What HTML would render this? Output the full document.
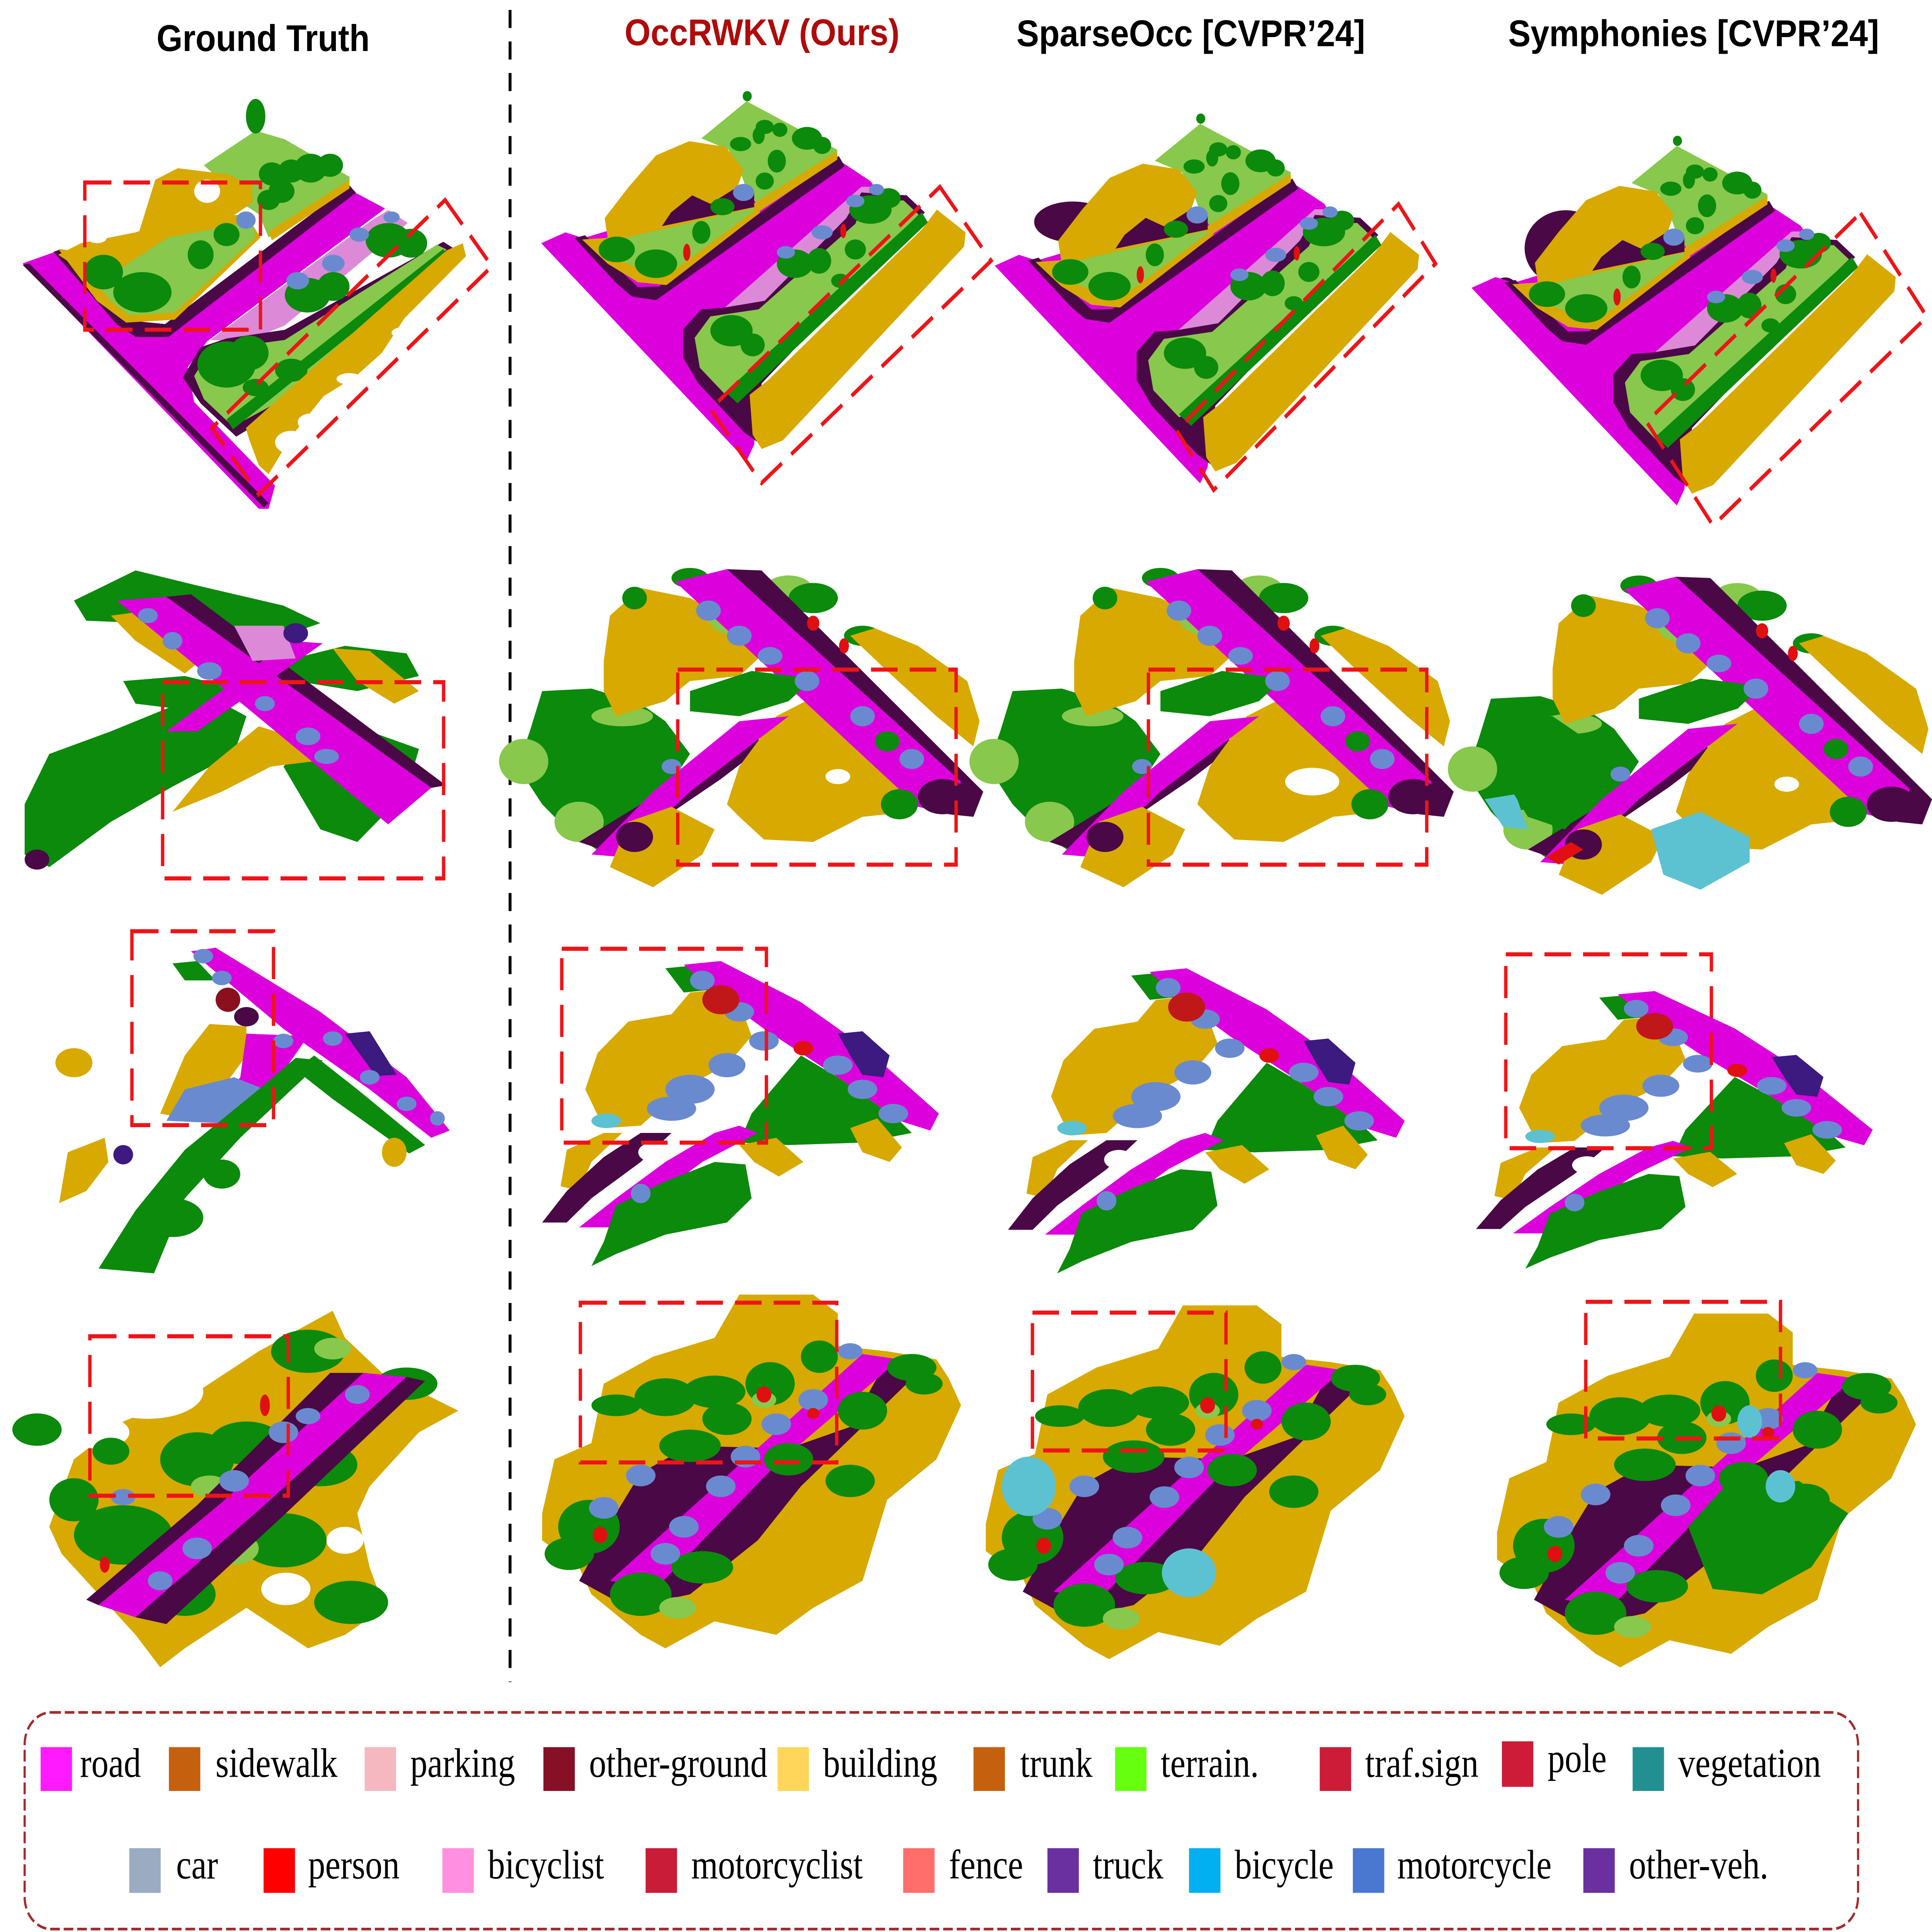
<!DOCTYPE html>
<html><head><meta charset="utf-8"><style>
html,body{margin:0;padding:0;width:100%;height:100%;overflow:hidden;background:#fff;}
svg{display:block;width:100vw;height:100vh;}
</style></head><body>
<svg xmlns="http://www.w3.org/2000/svg" xmlns:xlink="http://www.w3.org/1999/xlink" viewBox="0 0 7996 6616" preserveAspectRatio="none">
<style>
.m{fill:#dc00dc}.p{fill:#4a0846}.g{fill:#d8a900}.v{fill:#0b8a0b}.t{fill:#88c84c}.k{fill:#dc8ad8}.b{fill:#6a8ad0}.r{fill:#e01010}.u{fill:#3c1a80}.c{fill:#5cc2d2}.w{fill:#fff}
.tt{font-family:"Liberation Sans",Arial,sans-serif;font-weight:bold;font-size:128px;}
.lg{font-family:"Liberation Serif","Times New Roman",serif;font-size:142px;fill:#000;}
.bx{fill:none;stroke:#ee1418;stroke-width:14;stroke-dasharray:110 50;}
</style>
<rect x="0" y="0" width="7996" height="6616" fill="#fff"/>

<!-- Titles -->
<text class="tt" x="648" y="175" textLength="882" lengthAdjust="spacingAndGlyphs" fill="#000">Ground Truth</text>
<text class="tt" x="2585" y="155" textLength="1138" lengthAdjust="spacingAndGlyphs" fill="#b00a0a">OccRWKV (Ours)</text>
<text class="tt" x="4207" y="158" textLength="1443" lengthAdjust="spacingAndGlyphs" fill="#000">SparseOcc [CVPR’24]</text>
<text class="tt" x="6242" y="158" textLength="1535" lengthAdjust="spacingAndGlyphs" fill="#000">Symphonies [CVPR’24]</text>

<!-- vertical dashed divider -->
<line x1="2111" y1="34" x2="2111" y2="5760" stroke="#000" stroke-width="12" stroke-dasharray="62 46"/>

<!-- ===== ROW 1 ===== -->
<g transform="translate(0,220) scale(1.3393,0.9885)">
<polygon class="m" points="70,690 170,650 380,900 500,930 1090,440 1190,500 640,960 580,1050 600,1170 850,1460 830,1540 800,1540"/>
<polygon class="p" points="165,650 360,900 420,945 520,945 1100,445 1080,420 510,900 420,890 385,860 190,640"/>
<polygon class="p" points="70,695 90,690 830,1520 815,1535"/>
<polygon class="k" points="650,955 1150,540 1200,505 1260,550 880,905 760,960"/>
<polygon class="p" points="565,1085 620,980 700,950 880,920 1370,615 1405,640 870,1195 730,1290 620,1175"/>
<polygon class="t" points="600,1080 650,990 880,955 1350,625 1380,642 860,1170 720,1255 630,1160"/>
<ellipse class="v" cx="700" cy="1040" rx="90" ry="80"/><ellipse class="v" cx="770" cy="1000" rx="60" ry="60"/>
<ellipse class="v" cx="950" cy="800" rx="70" ry="60"/><ellipse class="v" cx="1030" cy="770" rx="50" ry="50"/>
<ellipse class="v" cx="1200" cy="610" rx="70" ry="60"/><ellipse class="v" cx="1270" cy="620" rx="50" ry="50"/>
<ellipse class="v" cx="900" cy="1060" rx="50" ry="40"/><ellipse class="v" cx="790" cy="1120" rx="40" ry="30"/>
<polygon class="v" points="700,1230 1370,640 1385,665 720,1265"/>
<ellipse class="b" cx="920" cy="750" rx="35" ry="30"/><ellipse class="b" cx="1030" cy="690" rx="35" ry="30"/>
<ellipse class="b" cx="1110" cy="590" rx="30" ry="25"/><ellipse class="b" cx="1210" cy="530" rx="25" ry="20"/>
<polygon class="g" points="760,1260 1000,1020 1380,645 1430,620 1440,665 1250,880 1180,1000 1100,1080 1000,1150 900,1290 830,1420 800,1390 770,1300"/>
<ellipse class="w" cx="1080" cy="1090" rx="40" ry="20"/><ellipse class="w" cx="900" cy="1310" rx="50" ry="40"/>
<ellipse class="w" cx="960" cy="1240" rx="40" ry="30"/><ellipse class="w" cx="1250" cy="930" rx="40" ry="20"/>
<polygon class="t" points="630,350 790,230 880,260 1080,390 1080,420 830,600 800,520 760,490 700,420"/>
<polygon class="g" points="830,580 1080,400 1080,430 840,610"/>
<ellipse class="v" cx="840" cy="380" rx="40" ry="40"/><ellipse class="v" cx="900" cy="370" rx="40" ry="40"/>
<ellipse class="v" cx="960" cy="360" rx="50" ry="50"/><ellipse class="v" cx="1020" cy="350" rx="40" ry="40"/>
<ellipse class="v" cx="830" cy="470" rx="35" ry="35"/><ellipse class="v" cx="870" cy="440" rx="40" ry="40"/>
<ellipse class="v" cx="790" cy="180" rx="30" ry="60"/>
<polygon class="g" points="180,660 250,620 430,580 480,400 550,360 620,370 700,380 780,420 780,480 700,540 580,560 500,600 430,700 370,700 330,690 260,720"/>
<ellipse class="w" cx="640" cy="440" rx="40" ry="40"/><ellipse class="w" cx="420" cy="620" rx="40" ry="30"/><ellipse class="w" cx="300" cy="600" rx="30" ry="20"/>
<polygon class="g" points="180,640 260,650 520,540 760,520 805,600 540,885 390,895 300,820"/>
<polygon class="t" points="300,760 520,600 780,545 790,600 540,860 400,870 340,820"/>
<ellipse class="v" cx="440" cy="790" rx="90" ry="70"/><ellipse class="v" cx="320" cy="720" rx="60" ry="60"/>
<ellipse class="v" cx="620" cy="660" rx="40" ry="50"/><ellipse class="v" cx="700" cy="590" rx="40" ry="40"/>
<ellipse class="b" cx="760" cy="540" rx="30" ry="30"/>
</g>

<g id="a1" transform="translate(2190,220) scale(1.25,0.9758)">
<polygon class="m" points="40,628 120,590 180,610 1030,340 1130,410 1150,440 800,800 760,1130 745,1335 720,1392"/>
<polygon class="k" points="620,880 1100,430 1160,430 1190,460 800,830"/>
<polygon class="p" points="150,610 290,770 340,815 420,828 1045,358 1025,322 430,780 360,782 310,732 185,600"/>
<polygon class="p" points="510,930 570,860 640,855 780,830 1050,540 1100,450 1250,460 1310,520 770,1120 755,1325 710,1290 560,1120 510,1030"/>
<polygon class="t" points="548,960 600,885 760,860 1080,560 1110,480 1240,478 1290,528 680,1150 650,1160 565,1065"/>
<polygon class="g" points="730,1160 790,1110 1300,580 1350,510 1445,590 1440,640 840,1320 770,1350 740,1300"/>
<polygon class="v" points="650,1150 1300,520 1320,555 690,1190"/>
<ellipse class="v" cx="670" cy="935" rx="70" ry="55"/><ellipse class="v" cx="740" cy="985" rx="40" ry="40"/>
<ellipse class="v" cx="880" cy="700" rx="60" ry="50"/><ellipse class="v" cx="960" cy="690" rx="40" ry="45"/>
<ellipse class="v" cx="1130" cy="510" rx="70" ry="50"/><ellipse class="v" cx="1190" cy="470" rx="40" ry="35"/>
<ellipse class="v" cx="1080" cy="650" rx="35" ry="35"/><ellipse class="v" cx="1030" cy="760" rx="30" ry="25"/>
<ellipse class="b" cx="850" cy="660" rx="30" ry="22"/><ellipse class="b" cx="970" cy="590" rx="35" ry="25"/>
<ellipse class="b" cx="1080" cy="480" rx="30" ry="22"/><ellipse class="b" cx="1150" cy="440" rx="25" ry="20"/>
<ellipse class="r" cx="1040" cy="585" rx="10" ry="25"/>
<polygon class="t" points="570,260 720,130 1020,300 1020,320 760,500 720,440 700,380 660,300"/>
<polygon class="g" points="740,492 1020,305 1020,335 760,518"/>
<polygon class="g" points="250,540 330,430 420,320 530,270 650,290 710,370 690,430 600,490 540,460 470,520 420,600 340,630 260,610"/>
<polygon class="p" points="420,600 470,520 540,460 600,490 690,430 745,450 745,505 500,620"/>
<polygon class="g" points="175,615 250,610 750,500 765,520 455,775 360,765 260,700"/>
<polygon class="t" points="235,630 740,505 745,515 460,740 365,715 280,680"/>
<ellipse class="v" cx="780" cy="220" rx="30" ry="25"/><ellipse class="v" cx="830" cy="230" rx="25" ry="25"/>
<ellipse class="v" cx="700" cy="280" rx="35" ry="25"/><ellipse class="v" cx="760" cy="250" rx="20" ry="30"/>
<ellipse class="v" cx="820" cy="340" rx="30" ry="40"/><ellipse class="v" cx="920" cy="260" rx="50" ry="40"/>
<ellipse class="v" cx="970" cy="285" rx="30" ry="30"/><ellipse class="v" cx="780" cy="410" rx="30" ry="30"/>
<ellipse class="v" cx="640" cy="500" rx="40" ry="30"/><ellipse class="v" cx="570" cy="590" rx="30" ry="40"/>
<ellipse class="v" cx="290" cy="650" rx="60" ry="45"/><ellipse class="v" cx="420" cy="700" rx="70" ry="50"/>
<ellipse class="v" cx="722" cy="112" rx="15" ry="18"/>
<ellipse class="b" cx="710" cy="450" rx="35" ry="30"/>
<ellipse class="r" cx="522" cy="660" rx="12" ry="30"/>
</g>
<ellipse class="p" cx="4440" cy="760" rx="160" ry="70"/>
<use xlink:href="#a1" href="#a1" transform="translate(1877,77)"/>
<ellipse class="p" cx="6480" cy="850" rx="170" ry="130"/>
<ellipse class="p" cx="6230" cy="1010" rx="60" ry="60"/>
<use xlink:href="#a1" href="#a1" transform="translate(3850,153)"/>

<rect class="bx" x="351" y="625" width="727" height="504"/>
<polygon class="bx" points="1842,685 2036,912 1071,1693 877,1466"/>
<polygon class="bx" points="3890,640 4102,893 3152,1654 2940,1401"/>
<polygon class="bx" points="5788,699 5941,903 5023,1678 4870,1474"/>
<polygon class="bx" points="7700,730 7975,1085 7090,1800 6815,1445"/>

<!-- ===== ROW 2 ===== -->
<g transform="translate(0,1850) scale(5.0995,0.861)">
<polygon class="v" points="60,240 110,120 160,180 230,260 260,330 230,380 180,350 120,330 70,320"/>
<polygon class="v" points="20,1050 40,850 90,760 140,660 170,620 200,700 190,850 140,980 90,1120 40,1300 20,1250"/>
<polygon class="v" points="230,900 260,750 300,760 340,830 330,1000 290,1200 260,1150"/>
<polygon class="v" points="230,480 280,420 330,450 340,540 290,600 240,560"/>
<polygon class="v" points="100,560 150,540 200,600 160,680 110,650"/>
<polygon class="g" points="90,300 120,280 170,450 150,530 110,400"/>
<polygon class="g" points="140,1080 170,900 210,740 250,800 270,870 220,900 180,1000"/>
<polygon class="g" points="270,430 300,440 340,600 320,650 290,560"/>
<polygon class="m" points="95,240 135,225 350,985 315,1130"/>
<polygon class="p" points="135,225 155,215 362,975 350,985"/>
<polygon class="m" points="235,400 262,410 160,760 135,760"/>
<polygon class="k" points="190,340 230,340 240,470 205,480"/>
<ellipse class="b" cx="120" cy="300" rx="8" ry="30"/><ellipse class="b" cx="140" cy="400" rx="8" ry="35"/>
<ellipse class="b" cx="170" cy="520" rx="10" ry="35"/><ellipse class="b" cx="250" cy="780" rx="10" ry="35"/>
<ellipse class="b" cx="265" cy="860" rx="10" ry="30"/><ellipse class="b" cx="215" cy="650" rx="8" ry="30"/>
<ellipse class="u" cx="240" cy="370" rx="10" ry="40"/>
<ellipse class="p" cx="30" cy="1270" rx="10" ry="40"/>
</g>

<g id="a2" transform="translate(0,1850) scale(5.0995,0.861)">
<polygon class="v" points="420,900 430,760 440,600 480,590 520,650 540,720 560,850 540,1000 520,1100 490,1250 460,1150 440,1050"/>
<ellipse class="t" cx="425" cy="880" rx="20" ry="90"/><ellipse class="t" cx="470" cy="1120" rx="20" ry="80"/>
<ellipse class="t" cx="505" cy="700" rx="25" ry="40"/>
<polygon class="g" points="490,480 495,300 520,190 560,230 600,330 620,450 600,540 560,560 540,640 500,700 490,600"/>
<ellipse class="t" cx="600" cy="310" rx="25" ry="70"/><ellipse class="t" cx="640" cy="200" rx="20" ry="60"/>
<ellipse class="v" cx="515" cy="230" rx="10" ry="45"/><ellipse class="v" cx="600" cy="170" rx="25" ry="50"/>
<ellipse class="v" cx="660" cy="230" rx="20" ry="60"/><ellipse class="v" cx="560" cy="150" rx="15" ry="40"/>
<ellipse class="v" cx="700" cy="380" rx="15" ry="40"/>
<polygon class="p" points="470,1200 520,1050 560,900 600,780 625,800 585,950 525,1150 500,1250"/>
<polygon class="g" points="690,380 710,350 745,420 785,560 795,720 790,820 760,700 720,520"/>
<polygon class="g" points="590,1050 600,900 630,700 670,600 710,680 740,820 760,1000 740,1080 700,1100 660,1200 620,1190 600,1100"/>
<ellipse class="w" cx="680" cy="940" rx="10" ry="30"/>
<polygon class="p" points="590,115 618,120 798,1000 790,1100 770,1090"/>
<polygon class="m" points="548,165 590,115 780,960 770,1090 745,1060"/>
<polygon class="m" points="600,720 640,700 560,1000 505,1260 480,1250 530,1000"/>
<polygon class="g" points="495,1300 510,1120 545,1060 580,1150 570,1250 530,1380"/>
<polygon class="v" points="560,600 610,520 660,550 640,640 600,700 560,680"/>
<ellipse class="v" cx="730" cy="1050" rx="15" ry="60"/><ellipse class="v" cx="720" cy="800" rx="10" ry="40"/>
<ellipse class="b" cx="575" cy="280" rx="10" ry="40"/><ellipse class="b" cx="600" cy="380" rx="10" ry="40"/>
<ellipse class="b" cx="625" cy="460" rx="10" ry="35"/><ellipse class="b" cx="655" cy="560" rx="10" ry="40"/>
<ellipse class="b" cx="700" cy="700" rx="10" ry="40"/><ellipse class="b" cx="740" cy="870" rx="10" ry="40"/>
<ellipse class="b" cx="545" cy="900" rx="8" ry="30"/>
<ellipse class="p" cx="515" cy="1180" rx="15" ry="60"/><ellipse class="p" cx="765" cy="1020" rx="20" ry="70"/>
<ellipse class="r" cx="660" cy="330" rx="5" ry="30"/><ellipse class="r" cx="685" cy="420" rx="4" ry="30"/>
</g>
<use xlink:href="#a2" href="#a2" transform="translate(1947,0)"/>
<use xlink:href="#a2" href="#a2" transform="translate(3927,26)"/>
<g transform="translate(0,1850) scale(5.0995,0.861)">
<ellipse class="w" cx="1065" cy="960" rx="22" ry="55"/>
<polygon class="c" points="1340,1150 1380,1080 1420,1180 1420,1280 1380,1390 1350,1330"/>
<polygon class="c" points="1205,1030 1230,1010 1240,1150 1220,1140"/>
<polygon class="r" points="1255,1260 1275,1200 1285,1230 1265,1290"/>
<polygon class="v" points="1215,900 1230,720 1260,700 1290,800 1300,1000 1270,1150 1240,1100"/>
</g>
<rect class="bx" x="673" y="2336" width="1163" height="672"/>
<rect class="bx" x="2805" y="2293" width="1152" height="668"/>
<rect class="bx" x="4753" y="2293" width="1152" height="668"/>

<!-- ===== ROW 3 ===== -->
<g transform="translate(0,3150) scale(5.0995,0.8291)">
<polygon class="v" points="140,180 160,170 175,250 150,250"/>
<polygon class="g" points="130,800 150,560 170,430 200,440 200,560 180,700 150,820"/>
<polygon class="m" points="155,130 175,115 260,380 330,650 365,870 350,900 300,700 230,450"/>
<polygon class="m" points="200,470 250,480 220,700 190,820 170,810 195,650"/>
<polygon class="b" points="135,830 150,700 190,650 215,700 210,800 180,840"/>
<polygon class="v" points="240,570 262,580 195,900 150,1150 125,1460 80,1440 110,1200 150,950 210,700"/>
<polygon class="v" points="255,560 290,700 345,930 332,965 270,740 240,620"/>
<polygon class="g" points="48,1170 55,960 85,900 88,1000 70,1120"/>
<polygon class="u" points="280,470 300,460 322,640 305,645"/>
<ellipse cx="185" cy="330" rx="10" ry="50" fill="#8a1020"/><ellipse class="p" cx="200" cy="400" rx="10" ry="40"/>
<ellipse class="b" cx="165" cy="150" rx="8" ry="30"/><ellipse class="b" cx="180" cy="240" rx="8" ry="30"/>
<ellipse class="b" cx="230" cy="500" rx="8" ry="30"/><ellipse class="b" cx="270" cy="490" rx="8" ry="30"/>
<ellipse class="b" cx="300" cy="650" rx="8" ry="30"/><ellipse class="b" cx="330" cy="760" rx="8" ry="30"/>
<ellipse class="b" cx="355" cy="820" rx="6" ry="30"/>
<ellipse class="g" cx="60" cy="590" rx="15" ry="60"/><ellipse class="g" cx="320" cy="960" rx="10" ry="60"/>
<ellipse class="u" cx="100" cy="970" rx="8" ry="40"/>
<ellipse class="v" cx="140" cy="1230" rx="25" ry="80"/><ellipse class="v" cx="180" cy="1050" rx="15" ry="60"/>
</g>

<g id="a3" transform="translate(0,3150) scale(5.0995,0.8291)">
<polygon class="g" points="475,700 485,550 510,420 545,390 560,300 580,290 600,340 610,480 590,600 560,680 540,760 520,850 490,860"/>
<polygon class="v" points="540,200 560,190 575,290 555,300"/>
<polygon class="m" points="555,185 585,170 650,340 700,520 762,800 755,870 730,830 680,650 620,450 580,300"/>
<polygon class="u" points="680,470 700,460 722,560 717,650 700,640 690,560"/>
<polygon class="v" points="650,560 680,650 730,830 740,880 700,920 640,930 600,920 610,800"/>
<polygon class="g" points="690,860 712,820 732,940 722,1000 700,960"/>
<polygon class="g" points="600,930 630,900 652,1000 632,1060 612,1000"/>
<polygon class="g" points="455,1100 460,950 490,880 505,880 480,1000 470,1120"/>
<polygon class="p" points="440,1250 460,1120 490,980 520,880 545,880 520,1000 480,1150 460,1250"/>
<polygon class="m" points="470,1270 500,1150 540,1000 580,880 600,850 615,880 570,1000 530,1150 495,1270"/>
<polygon class="v" points="490,1330 500,1180 540,1080 580,1000 605,1010 610,1150 590,1250 540,1300 500,1380 480,1430"/>
<ellipse class="b" cx="570" cy="250" rx="10" ry="40"/><ellipse class="b" cx="600" cy="380" rx="12" ry="40"/>
<ellipse class="b" cx="620" cy="500" rx="12" ry="40"/><ellipse class="b" cx="590" cy="600" rx="15" ry="50"/>
<ellipse class="b" cx="560" cy="700" rx="20" ry="60"/><ellipse class="b" cx="545" cy="780" rx="20" ry="50"/>
<ellipse class="b" cx="680" cy="600" rx="12" ry="40"/><ellipse class="b" cx="700" cy="700" rx="12" ry="40"/>
<ellipse class="b" cx="725" cy="800" rx="12" ry="40"/><ellipse class="b" cx="520" cy="1130" rx="8" ry="40"/>
<ellipse cx="585" cy="330" rx="15" ry="60" fill="#c01818"/><ellipse class="r" cx="652" cy="530" rx="8" ry="30"/>
<ellipse class="w" cx="530" cy="960" rx="12" ry="40"/>
<ellipse class="c" cx="492" cy="830" rx="12" ry="30"/>
</g>
<use xlink:href="#a3" href="#a3" transform="translate(1928,25)"/>
<use xlink:href="#a3" href="#a3" transform="matrix(1,0,0,0.91,3865,399)"/>
<rect class="bx" x="546" y="3189" width="586" height="664"/>
<rect class="bx" x="2325" y="3249" width="847" height="664"/>
<rect class="bx" x="6232" y="3268" width="851" height="664"/>

<!-- ===== ROW 4 ===== -->
<g transform="translate(0,4350) scale(5.0995,0.9247)">
<polygon class="g" points="40,950 60,700 100,560 160,450 210,300 270,150 280,250 310,380 350,470 372,520 340,600 320,700 300,800 290,900 300,1100 312,1250 280,1350 250,1400 200,1250 150,1400 130,1470 110,1350 80,1200 50,1050"/>
<ellipse class="w" cx="120" cy="450" rx="45" ry="100"/><ellipse class="w" cx="80" cy="600" rx="25" ry="60"/>
<ellipse class="w" cx="232" cy="1180" rx="20" ry="60"/><ellipse class="w" cx="280" cy="1000" rx="15" ry="50"/>
<ellipse class="v" cx="250" cy="300" rx="30" ry="80"/><ellipse class="v" cx="330" cy="420" rx="25" ry="60"/>
<ellipse class="v" cx="200" cy="640" rx="30" ry="80"/><ellipse class="v" cx="160" cy="700" rx="30" ry="100"/>
<ellipse class="v" cx="260" cy="720" rx="30" ry="80"/><ellipse class="v" cx="100" cy="980" rx="40" ry="110"/>
<ellipse class="v" cx="230" cy="1000" rx="35" ry="100"/><ellipse class="v" cx="150" cy="1200" rx="25" ry="80"/>
<ellipse class="v" cx="285" cy="1230" rx="30" ry="80"/><ellipse class="v" cx="30" cy="590" rx="20" ry="60"/>
<ellipse class="v" cx="90" cy="670" rx="15" ry="50"/><ellipse class="v" cx="60" cy="850" rx="20" ry="80"/>
<ellipse class="t" cx="190" cy="1030" rx="20" ry="60"/><ellipse class="t" cx="270" cy="290" rx="15" ry="40"/>
<ellipse class="t" cx="170" cy="800" rx="15" ry="40"/>
<polygon class="p" points="268,380 295,380 180,860 80,1240 70,1220 160,870"/>
<polygon class="m" points="295,380 330,395 212,880 110,1285 80,1240 180,860"/>
<polygon class="p" points="330,395 345,410 232,900 135,1310 110,1285 212,880"/>
<ellipse class="b" cx="290" cy="460" rx="10" ry="35"/><ellipse class="b" cx="230" cy="600" rx="12" ry="40"/>
<ellipse class="b" cx="190" cy="780" rx="12" ry="40"/><ellipse class="b" cx="160" cy="1030" rx="12" ry="40"/>
<ellipse class="b" cx="130" cy="1150" rx="10" ry="35"/><ellipse class="b" cx="100" cy="840" rx="10" ry="30"/>
<ellipse class="b" cx="250" cy="540" rx="10" ry="30"/>
<ellipse class="r" cx="85" cy="1090" rx="4" ry="30"/><ellipse class="r" cx="215" cy="500" rx="4" ry="40"/>
</g>

<g id="a4" transform="translate(0,4350) scale(5.0995,0.9247)">
<polygon class="g" points="440,900 450,700 480,640 490,420 530,320 580,250 600,90 660,90 680,160 680,280 720,300 760,330 770,400 780,500 760,700 720,850 710,1000 700,1150 660,1250 630,1350 580,1300 540,1400 520,1350 480,1200 470,1100 440,1000"/>
<polygon class="p" points="470,1150 500,900 520,750 560,650 640,660 690,580 720,330 745,380 650,800 615,1000 560,1200 510,1250"/>
<polygon class="m" points="700,310 730,330 630,720 532,1180 495,1150 600,720"/>
<ellipse class="v" cx="500" cy="500" rx="20" ry="40"/><ellipse class="v" cx="540" cy="470" rx="25" ry="70"/>
<ellipse class="v" cx="580" cy="450" rx="25" ry="60"/><ellipse class="v" cx="625" cy="420" rx="20" ry="80"/>
<ellipse class="v" cx="665" cy="320" rx="15" ry="60"/><ellipse class="v" cx="740" cy="360" rx="20" ry="50"/>
<ellipse class="v" cx="478" cy="950" rx="25" ry="100"/><ellipse class="v" cx="560" cy="650" rx="25" ry="60"/>
<ellipse class="v" cx="640" cy="700" rx="20" ry="60"/><ellipse class="v" cx="690" cy="780" rx="20" ry="60"/>
<ellipse class="v" cx="520" cy="1200" rx="25" ry="80"/><ellipse class="v" cx="570" cy="1100" rx="25" ry="60"/>
<ellipse class="v" cx="462" cy="1050" rx="20" ry="60"/><ellipse class="v" cx="700" cy="520" rx="20" ry="70"/>
<ellipse class="v" cx="750" cy="420" rx="15" ry="40"/><ellipse class="v" cx="590" cy="550" rx="20" ry="60"/>
<ellipse class="t" cx="550" cy="1250" rx="15" ry="40"/><ellipse class="t" cx="620" cy="480" rx="10" ry="30"/>
<ellipse class="b" cx="690" cy="300" rx="10" ry="30"/><ellipse class="b" cx="660" cy="480" rx="12" ry="40"/>
<ellipse class="b" cx="630" cy="570" rx="12" ry="40"/><ellipse class="b" cx="605" cy="690" rx="12" ry="40"/>
<ellipse class="b" cx="585" cy="800" rx="12" ry="40"/><ellipse class="b" cx="555" cy="950" rx="12" ry="40"/>
<ellipse class="b" cx="540" cy="1050" rx="12" ry="40"/><ellipse class="b" cx="520" cy="760" rx="12" ry="40"/>
<ellipse class="b" cx="490" cy="880" rx="12" ry="40"/>
<ellipse class="r" cx="620" cy="460" rx="6" ry="30"/><ellipse class="r" cx="487" cy="980" rx="6" ry="30"/>
<ellipse class="r" cx="660" cy="530" rx="5" ry="20"/>
</g>
<use xlink:href="#a4" href="#a4" transform="translate(1836,37)"/>
<use xlink:href="#a4" href="#a4" transform="translate(3952,65)"/>
<g transform="translate(0,4350) scale(5.0995,0.9247)">
<ellipse class="c" cx="835" cy="800" rx="22" ry="110"/><ellipse class="c" cx="965" cy="1120" rx="22" ry="90"/>
<polygon class="v" points="1370,950 1400,800 1460,780 1500,900 1470,1100 1430,1200 1390,1180"/>
<ellipse class="c" cx="1445" cy="800" rx="12" ry="60"/><ellipse class="c" cx="1420" cy="560" rx="10" ry="60"/>
</g>
<rect class="bx" x="372" y="4576" width="821" height="546"/>
<rect class="bx" x="2402" y="4461" width="1061" height="547"/>
<rect class="bx" x="4273" y="4495" width="801" height="472"/>
<rect class="bx" x="6563" y="4458" width="806" height="468"/>

<!-- ===== LEGEND ===== -->
<rect x="102" y="5864" width="7588" height="742" rx="110" ry="110" fill="none" stroke="#a52a2a" stroke-width="9" stroke-dasharray="40 16"/>
<rect x="168" y="5983" width="130" height="150" fill="#ff1aff"/><text class="lg" x="331" y="6085">road</text>
<rect x="699" y="5983" width="130" height="150" fill="#c5600f"/><text class="lg" x="892" y="6085">sidewalk</text>
<rect x="1509" y="5983" width="130" height="150" fill="#f5b8c0"/><text class="lg" x="1698" y="6085">parking</text>
<rect x="2249" y="5983" width="130" height="150" fill="#861026"/><text class="lg" x="2438" y="6085">other-ground</text>
<rect x="3218" y="5983" width="130" height="150" fill="#ffd65a"/><text class="lg" x="3406" y="6085">building</text>
<rect x="4029" y="5983" width="130" height="150" fill="#c5600f"/><text class="lg" x="4222" y="6085">trunk</text>
<rect x="4615" y="5983" width="130" height="150" fill="#66ff10"/><text class="lg" x="4804" y="6085">terrain.</text>
<rect x="5462" y="5983" width="130" height="150" fill="#cc1c38"/><text class="lg" x="5650" y="6085">traf.sign</text>
<rect x="6216" y="5963" width="130" height="156" fill="#cc1c38"/><text class="lg" x="6405" y="6068">pole</text>
<rect x="6757" y="5983" width="130" height="150" fill="#229090"/><text class="lg" x="6945" y="6085">vegetation</text>
<rect x="535" y="6329" width="130" height="153" fill="#9aabc2"/><text class="lg" x="729" y="6433">car</text>
<rect x="1091" y="6329" width="130" height="153" fill="#ff0000"/><text class="lg" x="1275" y="6433">person</text>
<rect x="1831" y="6329" width="130" height="153" fill="#ff8fe0"/><text class="lg" x="2019" y="6433">bicyclist</text>
<rect x="2672" y="6329" width="130" height="153" fill="#c81c38"/><text class="lg" x="2861" y="6433">motorcyclist</text>
<rect x="3738" y="6329" width="130" height="153" fill="#ff6e6a"/><text class="lg" x="3927" y="6433">fence</text>
<rect x="4335" y="6329" width="130" height="153" fill="#6b30a0"/><text class="lg" x="4523" y="6433">truck</text>
<rect x="4921" y="6329" width="130" height="153" fill="#00b0f0"/><text class="lg" x="5110" y="6433">bicycle</text>
<rect x="5599" y="6329" width="130" height="153" fill="#4a78d0"/><text class="lg" x="5783" y="6433">motorcycle</text>
<rect x="6553" y="6329" width="130" height="153" fill="#6b30a0"/><text class="lg" x="6742" y="6433">other-veh.</text>
</svg>
</body></html>
